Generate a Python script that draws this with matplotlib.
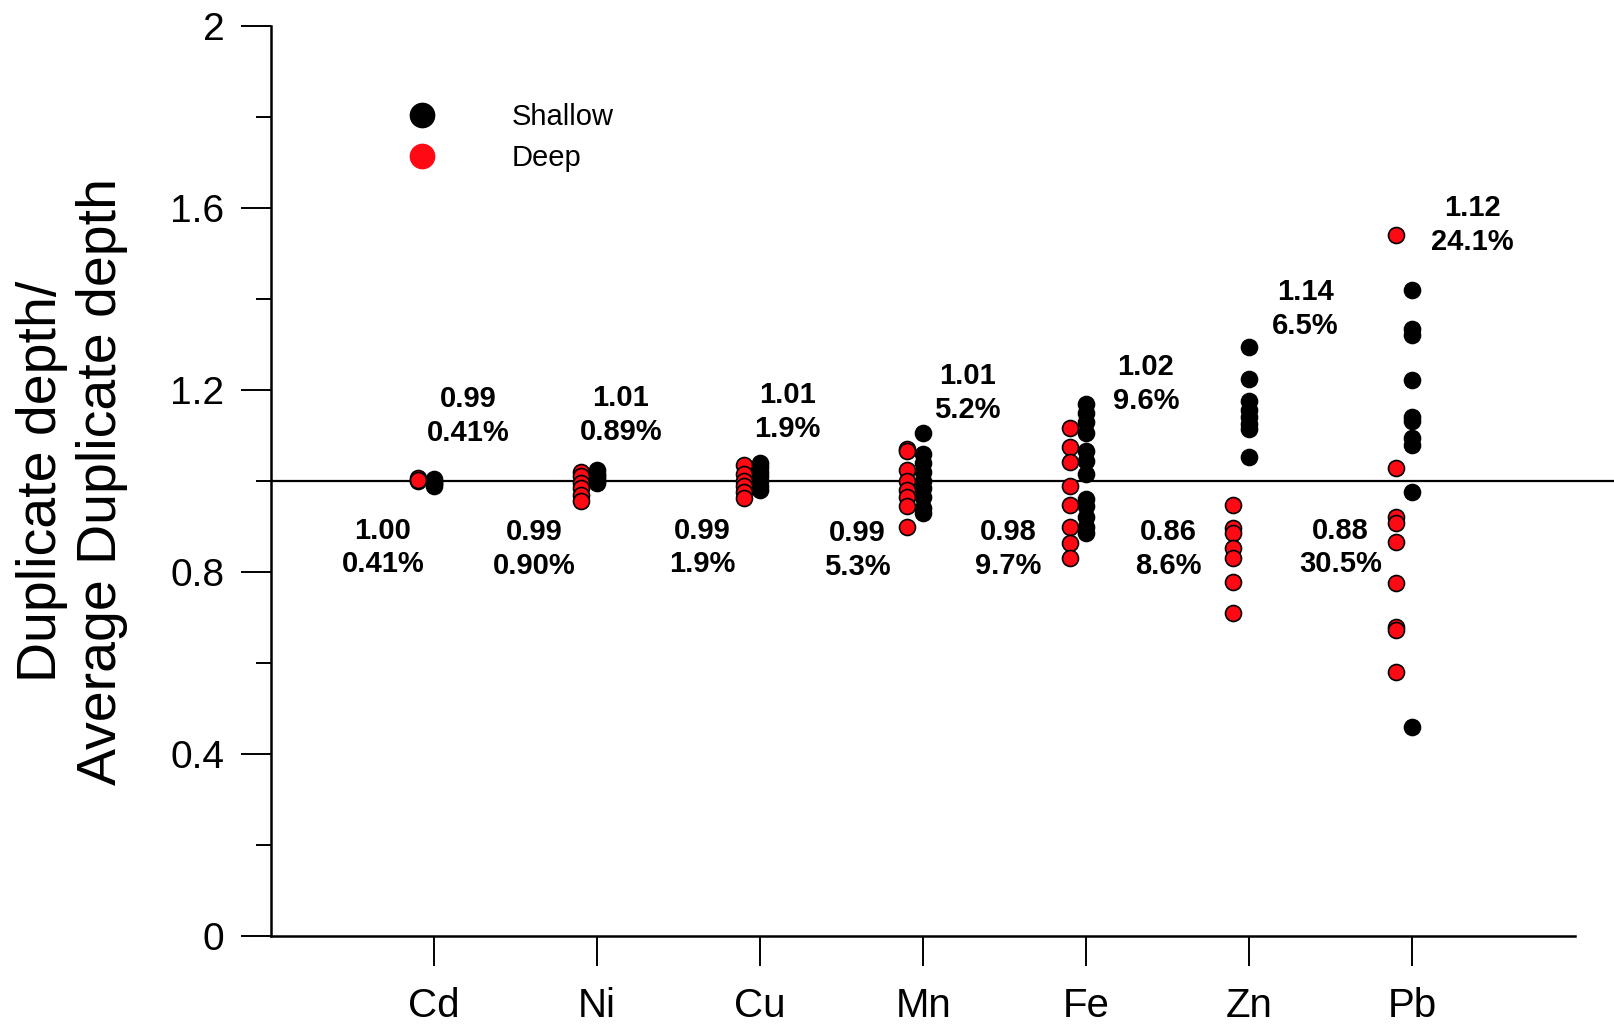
import numpy as np
import matplotlib
matplotlib.use("Agg")
import matplotlib.pyplot as plt
from matplotlib.lines import Line2D
from matplotlib.ticker import FixedLocator

plt.rcParams['font.family'] = ['Liberation Sans', 'DejaVu Sans']

# elements on the x axis
elements = ['Cd', 'Ni', 'Cu', 'Mn', 'Fe', 'Zn', 'Pb']

# duplicate depth / average duplicate depth
shallow_vals = [
    [1.005, 0.995, 0.99, 0.995],
    [1.025, 1.015, 1.01, 1.005, 1.00, 0.995],
    [1.04, 1.03, 1.02, 1.01, 1.00, 0.99, 0.98],
    [1.105, 1.06, 1.04, 1.02, 1.00, 0.985, 0.965, 0.94, 0.93],
    [1.17, 1.15, 1.13, 1.105, 1.065, 1.045, 1.015, 0.96, 0.945, 0.92, 0.90, 0.885],
    [1.295, 1.225, 1.175, 1.155, 1.14, 1.125, 1.115, 1.053],
    [1.42, 1.335, 1.32, 1.222, 1.14, 1.133, 1.094, 1.079, 0.976, 0.46],
]
deep_vals = [
    [1.007, 1.00, 1.003],
    [1.02, 1.01, 0.995, 0.985, 0.97, 0.955],
    [1.035, 1.015, 1.00, 0.99, 0.975, 0.962],
    [1.07, 1.065, 1.025, 1.00, 0.98, 0.965, 0.945, 0.90],
    [1.116, 1.075, 1.042, 0.988, 0.947, 0.90, 0.863, 0.83],
    [0.947, 0.896, 0.885, 0.852, 0.83, 0.779, 0.709],
    [1.54, 1.028, 0.922, 0.907, 0.867, 0.775, 0.68, 0.673, 0.581],
]

# mean and CV labels
shallow_mean = ['0.99', '1.01', '1.01', '1.01', '1.02', '1.14', '1.12']
shallow_cv = ['0.41%', '0.89%', '1.9%', '5.2%', '9.6%', '6.5%', '24.1%']
deep_mean = ['1.00', '0.99', '0.99', '0.99', '0.98', '0.86', '0.88']
deep_cv = ['0.41%', '0.90%', '1.9%', '5.3%', '9.7%', '8.6%', '30.5%']

# where the labels sit (offset from the element, and height)
shallow_lab_dx = [0.21, 0.145, 0.168, 0.273, 0.366, 0.345, 0.368]
shallow_lab_y = [1.143, 1.145, 1.152, 1.194, 1.214, 1.378, 1.563]
deep_lab_dx = [-0.314, -0.385, -0.356, -0.402, -0.48, -0.495, -0.441]
deep_lab_y = [0.854, 0.851, 0.854, 0.849, 0.851, 0.851, 0.854]

fig = plt.figure(figsize=(16.14, 10.24), dpi=100)
ax = fig.add_axes([0.168, 0.0859, 0.808, 0.8887])

pos = np.arange(1, len(elements) + 1)

for i, p in enumerate(pos):
    ys = shallow_vals[i]
    ax.plot([p] * len(ys), ys, 'o', ms=11.5, mfc='black', mec='black', mew=1.2,
            ls='none', zorder=3)
for i, p in enumerate(pos):
    yd = deep_vals[i]
    ax.plot([p - 0.1] * len(yd), yd, 'o', ms=11.5, mfc='#ff0a14', mec='black', mew=1.2,
            ls='none', zorder=4)

ax.axhline(1.0, xmin=0, xmax=1.04, color='black', lw=1.6, zorder=1, clip_on=False)

for i, p in enumerate(pos):
    ax.text(p + shallow_lab_dx[i], shallow_lab_y[i], shallow_mean[i] + '\n' + shallow_cv[i],
            ha='center', va='center', fontsize=21, fontweight='bold', linespacing=1.26)
    ax.text(p + deep_lab_dx[i], deep_lab_y[i], deep_mean[i] + '\n' + deep_cv[i],
            ha='center', va='center', fontsize=21, fontweight='bold', linespacing=1.26)

ax.set_xlim(0, 8)
ax.set_ylim(0, 2)
ax.set_xticks(pos)
ax.set_xticklabels(elements)
yt = [0, 0.4, 0.8, 1.2, 1.6, 2.0]
ax.set_yticks(yt)
ax.set_yticklabels(['0', '0.4', '0.8', '1.2', '1.6', '2'])
ax.yaxis.set_minor_locator(FixedLocator([0.2, 0.6, 1.0, 1.4, 1.8]))

ax.tick_params(axis='x', which='major', direction='out', length=21.5, width=1.4,
               labelsize=29, pad=15)
ax.tick_params(axis='y', which='major', direction='out', length=21.5, width=1.4,
               labelsize=28, pad=12)
ax.tick_params(axis='y', which='minor', direction='out', length=11, width=1.4)

for s in ['top', 'right']:
    ax.spines[s].set_visible(False)
for s in ['left', 'bottom']:
    ax.spines[s].set_linewidth(1.8)

ax.set_ylabel('Duplicate depth/\nAverage Duplicate depth', fontsize=40, linespacing=1.2,
              multialignment='center')
ax.yaxis.set_label_coords(-0.11, 0.5)

handles = [
    Line2D([], [], marker='o', ls='none', ms=17.5, mfc='black', mec='black'),
    Line2D([], [], marker='o', ls='none', ms=17.5, mfc='#ff0a14', mec='#ff0a14'),
]
ax.legend(handles, ['Shallow', 'Deep'], loc='upper left', bbox_to_anchor=(0.0936, 0.915),
          frameon=False, fontsize=21, handlelength=2, handletextpad=2.05,
          labelspacing=0.44, borderpad=0, borderaxespad=0)

fig.savefig('out.png', dpi=100)
